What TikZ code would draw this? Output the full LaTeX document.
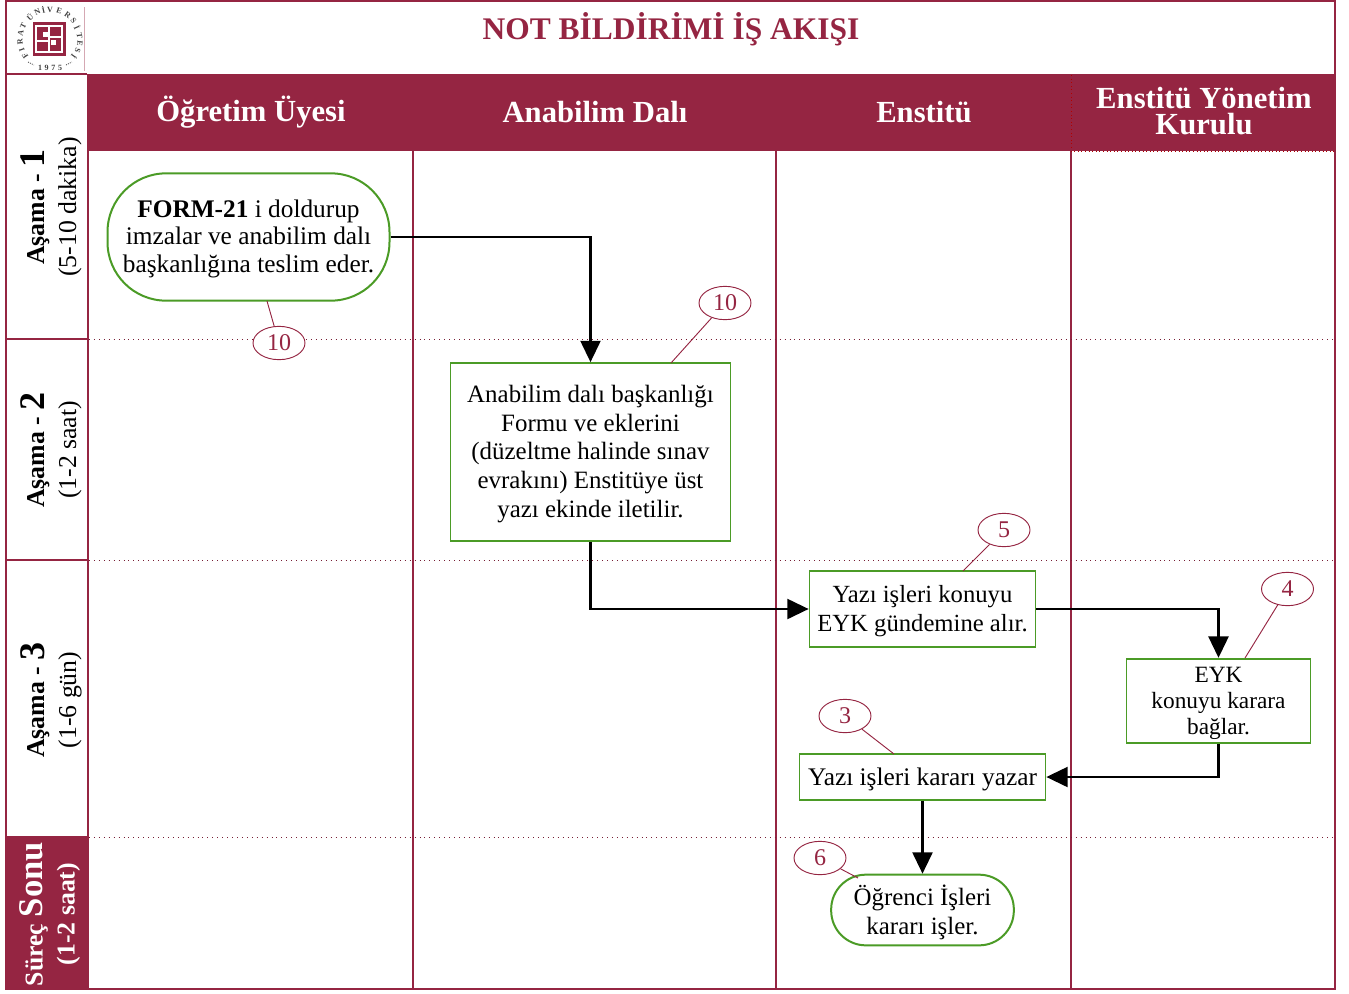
\documentclass[tikz,border=0pt]{standalone}
\usepackage{fontspec}
\setmainfont{Liberation Serif}
\usetikzlibrary{arrows.meta,shapes.geometric}
\definecolor{wine}{HTML}{952542}
\definecolor{boxgreen}{HTML}{4B9B26}
\newcommand{\lifttext}[1]{\rule{0pt}{#1pt}}
\tikzset{
  x=0.75pt,y=-0.75pt,
  frameline/.style={draw=wine,line width=1.5pt},
  laneline/.style={draw=wine,line width=0.9pt},
  dotline/.style={draw=wine!80!black,line width=0.6pt,dash pattern=on 0.7pt off 3pt},
  header/.style={text=white,font=\fontsize{23}{20}\selectfont\bfseries,align=center},
  stage/.style={rotate=90,align=center,font=\fontsize{19.3}{24}\selectfont,text=black},
  greenbox/.style={draw=boxgreen,line width=1.3pt,fill=white,align=center,font=\fontsize{18.7}{22}\selectfont,inner sep=0pt},
  flow/.style={draw=black,line width=1.7pt,-{Triangle[length=16pt,width=15pt]}},
  badge/.style={draw=wine,line width=0.7pt,fill=white,ellipse,minimum width=39pt,minimum height=25pt,inner sep=0pt,text=wine,font=\fontsize{18}{20}\selectfont},
  tick/.style={draw=wine,line width=0.7pt},
  logoch/.style={font=\fontsize{6}{7}\selectfont\bfseries,text=black!75,inner sep=0pt}
}
\begin{document}
\begin{tikzpicture}
\useasboundingbox (0,0) rectangle (1349,993);
% bands
\fill[wine] (87,74) rectangle (1335,151);
\fill[wine] (6,836) rectangle (89,989);
% outer frame
\draw[frameline] (6,1) rectangle (1335,989);
\draw[draw=wine,line width=1.2pt] (6,74) -- (87,74);
\draw[laneline,line width=1.5pt] (88,74) -- (88,836);
% lane lines
\draw[laneline] (413,151) -- (413,989);
\draw[laneline] (776,151) -- (776,989);
\draw[laneline] (1071,151) -- (1071,989);
\draw[draw=wine,line width=1.2pt] (6,339) -- (88,339);
\draw[draw=wine,line width=1.2pt] (6,560) -- (88,560);
\draw[dotline] (89,339) -- (1335,339);
\draw[dotline] (89,560) -- (1335,560);
\draw[dotline] (89,837) -- (1335,837);
\draw[draw=red!70!black,line width=0.5pt,dash pattern=on 0.7pt off 2pt] (1071,75) -- (1071,151) -- (1335,151);
% logo
\draw[draw=wine!40,line width=0.5pt] (84,7) -- (84,71);
\fill[wine] (33,22) rectangle (66,56);
\draw[white,line width=0.9pt] (36,26) rectangle (62,52);
\draw[white,line width=1.1pt] (36,41) -- (49,41) (49,26) -- (49,52) (49,37) -- (62,37);
\fill[white] (42.500,32) rectangle (47.500,37);
\fill[white] (50.500,40) rectangle (55.500,45);
\foreach \c/\a in {F/214,I/200,R/185,A/168,T/153,Ü/132,N/115,İ/103,V/90,E/72,R/54,S/38,İ/24,T/8,E/-7,S/-22,İ/-36}{
  \node[logoch,rotate=\a-90] at ({50+30*cos(\a)},{39.5-30*sin(\a)}) {\c};
}
\node[logoch] (yr) at (50,68) {1\,\,9\,\,7\,\,5};
\draw[black!70,line width=0.6pt,dash pattern=on 0.8pt off 0.8pt] (28,62) -- (34,65);
\draw[black!70,line width=0.6pt,dash pattern=on 0.8pt off 0.8pt] (66,65) -- (72,62);
% title
\node[text=wine,font=\fontsize{23.6}{28}\selectfont\bfseries] (title) at (671,29) {NOT BİLDİRİMİ İŞ AKIŞI};
% headers
\node[header] (h1) at (251,112) {Öğretim Üyesi};
\node[header] (h2) at (595,112) {Anabilim Dalı};
\node[header] (h3) at (924,112) {Enstitü};
\node[header] (h4) at (1204,111) {Enstitü Yönetim\\[0pt]Kurulu};
% stages
\node[stage] (s1) at (51,207) {{\bfseries Aşama - \fontsize{27}{24}\selectfont 1}\\(5-10 dakika)};
\node[stage] (s2) at (51,450) {{\bfseries Aşama - \fontsize{27}{24}\selectfont 2}\\(1-2 saat)};
\node[stage] (s3) at (51,700) {{\bfseries Aşama - \fontsize{27}{24}\selectfont 3}\\(1-6 gün)};
\node[stage,text=white] (s4) at (50,914) {{\bfseries Süreç \fontsize{26}{24}\selectfont Sonu}\\{\bfseries (1-2 saat)}};
% boxes
\node[greenbox,rounded corners=44pt,line width=1.5pt,minimum width=211.5pt,minimum height=95.5pt,font=\fontsize{19}{20.3}\selectfont] (a) at (248.500,237) {\lifttext{16}{\bfseries FORM-21} i doldurup\\imzalar ve anabilim dalı\\başkanlığına teslim eder.};
\node[greenbox,minimum width=210pt,minimum height=133.500pt,font=\fontsize{18.7}{21.700}\selectfont] (b) at (590.500,452) {\lifttext{16}Anabilim dalı başkanlığı\\Formu ve eklerini\\(düzeltme halinde sınav\\evrakını) Enstitüye üst\\yazı ekinde iletilir.};
\node[greenbox,minimum width=169.500pt,minimum height=57pt,font=\fontsize{18.5}{22}\selectfont] (c) at (922.500,609) {\lifttext{16}Yazı işleri konuyu\\EYK gündemine alır.};
\node[greenbox,minimum width=138pt,minimum height=63.500pt,font=\fontsize{17.5}{19.500}\selectfont] (d) at (1218.500,701) {\lifttext{14.5}EYK\\konuyu karara\\bağlar.};
\node[greenbox,minimum width=184.500pt,minimum height=34.500pt,font=\fontsize{19}{22}\selectfont] (e) at (922.500,777) {Yazı işleri kararı yazar\\[-22pt]\mbox{}};
\node[greenbox,line width=1.5pt,rounded corners=26pt,minimum width=137pt,minimum height=53pt] (f) at (922.500,910) {\lifttext{19}Öğrenci İşleri\\kararı işler.};
% flow
\coordinate (ab) at (590.500,237);
\coordinate (bc) at (590.500,609);
\coordinate (cd) at (1218.500,609);
\coordinate (de) at (1218.500,777);
\draw[flow] (a.east) -- (ab) -- (b.north);
\draw[flow] (b.south) -- (bc) -- (c.west);
\draw[flow] (c.east) -- (cd) -- (d.north);
\draw[flow] (d.south) -- (de) -- (e.east);
\draw[flow] (e.south) -- (f.north);
% badges
\node[badge] (n1) at (279,343) {10};
\node[badge] (n2) at (725,303) {10};
\node[badge] (n3) at (1004,530) {5};
\node[badge] (n4) at (1287.500,589) {4};
\node[badge] (n5) at (845,716) {3};
\node[badge] (n6) at (820,858) {6};
\coordinate (t1) at (267,301);
\coordinate (t2) at (671,363);
\coordinate (t3) at (963,571);
\coordinate (t4) at (1245,658);
\coordinate (t5) at (894,754);
\coordinate (t6) at (858,878);
\draw[tick] (t1) -- (n1);
\draw[tick] (t2) -- (n2);
\draw[tick] (t3) -- (n3);
\draw[tick] (t4) -- (n4);
\draw[tick] (t5) -- (n5);
\draw[tick] (t6) -- (n6);
\end{tikzpicture}
\end{document}
